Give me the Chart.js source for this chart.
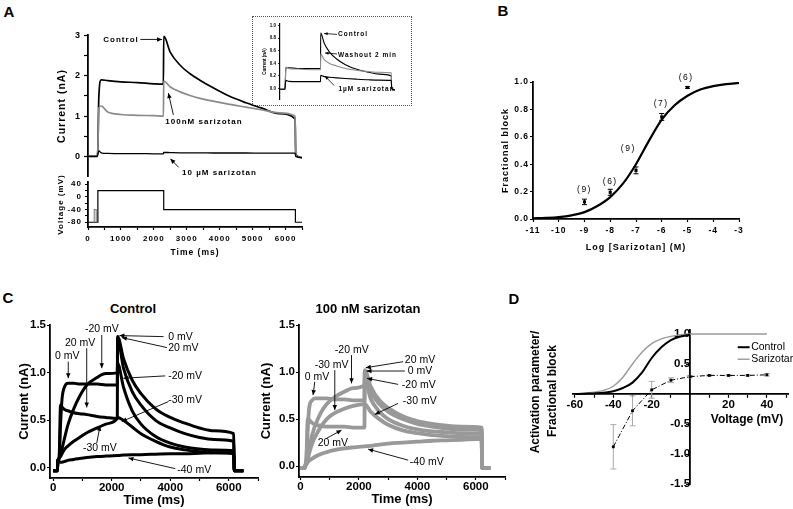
<!DOCTYPE html>
<html>
<head>
<meta charset="utf-8">
<script src="https://cdn.jsdelivr.net/npm/chart.js@4.4.1/dist/chart.umd.min.js"></script>
<style>
  body { margin: 0; background: #fff; width: 793px; height: 509px; position: relative; overflow: hidden; font-family: "Liberation Sans", Arial, sans-serif; }
  canvas { position: absolute; }
  #inbox { position: absolute; left: 252px; top: 16px; width: 158px; height: 88px; border: 1px dotted #555; }
</style>
</head>
<body>
<div id="inbox"></div>
<canvas id="aCur"></canvas>
<canvas id="aVolt"></canvas>
<canvas id="aIns"></canvas>
<canvas id="bDose"></canvas>
<canvas id="cCtrl"></canvas>
<canvas id="cSar"></canvas>
<canvas id="dAct"></canvas>
<script>
// ---- panel A: currents at +20 / -40 mV (nA), time in ms
const aTime = [0, 280, 300, 330, 400, 600, 1000, 1500, 2000, 2290, 2300, 2500, 2800, 3100, 3400, 3800, 4300, 4800, 5300, 5800, 6290, 6310, 6500];
const aControl = [0, 0, 0.2, 1.5, 1.9, 1.88, 1.85, 1.83, 1.8, 1.79, 2.98, 2.58, 2.26, 2.05, 1.89, 1.7, 1.49, 1.33, 1.19, 1.06, 0.93, 0.05, -0.03];
const a100nM = [0, 0, 0.2, 1.2, 1.25, 1.1, 1.04, 1.02, 1.01, 1.0, 1.87, 1.72, 1.6, 1.51, 1.44, 1.37, 1.29, 1.22, 1.15, 1.08, 1.0, 0.03, -0.03];
const a10uM = [0, 0, 0.05, 0.14, 0.09, 0.075, 0.07, 0.07, 0.065, 0.065, 0.1, 0.095, 0.09, 0.09, 0.09, 0.085, 0.085, 0.085, 0.08, 0.08, 0.08, 0.0, -0.03];
const aYTicks = [0, 0.5, 1, 1.5, 2, 2.5, 3];
const aYLabels = ['0', '', '1', '', '2', '', '3'];

// voltage protocol
const vTime = [0, 300, 300, 2300, 2300, 6300, 6300, 6500];
const vCmd = [-80, -80, 20, 20, -40, -40, -80, -80];
const preTime = [190, 190, 250, 250];
const preCmd = [-80, -40, -40, -80];
const vYTicks = [-80, -60, -40, -20, 0, 20, 40];
const vYLabels = ['-80', '', '-40', '', '0', '', '40'];
const tTicks = [0, 500, 1000, 1500, 2000, 2500, 3000, 3500, 4000, 4500, 5000, 5500, 6000, 6500];
const tLabels = ['0', '', '1000', '', '2000', '', '3000', '', '4000', '', '5000', '', '6000', ''];

// inset
const iTime = [0, 280, 300, 330, 500, 1000, 2000, 2290, 2300, 2500, 2800, 3200, 3700, 4300, 5000, 5600, 6290, 6310, 6500];
const iControl = [-0.01, -0.01, 0.1, 0.33, 0.33, 0.32, 0.32, 0.32, 0.88, 0.72, 0.58, 0.47, 0.38, 0.31, 0.26, 0.23, 0.2, 0.0, -0.02];
const iWashout = [-0.01, -0.01, 0.1, 0.34, 0.32, 0.31, 0.3, 0.3, 0.55, 0.46, 0.4, 0.36, 0.32, 0.29, 0.27, 0.26, 0.25, 0.0, -0.02];
const i1uM = [-0.01, -0.01, 0.05, 0.13, 0.115, 0.11, 0.11, 0.11, 0.21, 0.19, 0.18, 0.17, 0.16, 0.15, 0.14, 0.135, 0.13, 0.0, -0.02];
const iYTicks = [0, 0.2, 0.4, 0.6, 0.8, 1.0];
const iYLabels = ['0.0', '0.2', '0.4', '0.6', '0.8', '1.0'];

// ---- panel B: concentration-response
const bLogConc = [-9, -8, -7, -6, -5];
const bBlock = [0.125, 0.195, 0.355, 0.745, 0.96];
const bSem = [0.02, 0.022, 0.025, 0.025, 0.006];
const bN = ['(9)', '(6)', '(9)', '(7)', '(6)'];
const bFitLog = [-11, -10.5, -10, -9.5, -9, -8.5, -8, -7.5, -7, -6.5, -6, -5.5, -5, -4.5, -4, -3.5, -3];
const bFitVal = [0.005, 0.008, 0.014, 0.027, 0.05, 0.095, 0.16, 0.26, 0.4, 0.57, 0.725, 0.83, 0.9, 0.945, 0.97, 0.985, 0.993];
const bXTicks = [-11, -10, -9, -8, -7, -6, -5, -4, -3];
const bXLabels = ['-11', '-10', '-9', '-8', '-7', '-6', '-5', '-4', '-3'];
const bYTicks = [0, 0.2, 0.4, 0.6, 0.8, 1.0];
const bYLabels = ['0.0', '0.2', '0.4', '0.6', '0.8', '1.0'];

// ---- panel C: families of currents (nA)
const cTime = [0, 140, 160, 200, 250, 300, 400, 500, 700, 900, 1150, 1500, 1800, 2190, 2200, 2400, 2700, 3000, 3500, 4000, 4500, 5000, 5500, 6170, 6190, 6500];
const cCtrl0 = [-0.03, -0.03, 0.08, 0.1, 0.45, 0.72, 0.86, 0.89, 0.89, 0.88, 0.88, 0.88, 0.87, 0.87, 1.38, 1.15, 0.92, 0.78, 0.62, 0.53, 0.47, 0.42, 0.39, 0.36, -0.03, -0.03];
const cCtrl20 = [-0.03, -0.03, 0.08, 0.1, 0.66, 0.64, 0.61, 0.6, 0.58, 0.57, 0.56, 0.54, 0.53, 0.52, 1.36, 1.05, 0.8, 0.66, 0.5, 0.42, 0.36, 0.32, 0.3, 0.28, -0.03, -0.03];
const cCtrlM20 = [-0.03, -0.03, 0.08, 0.1, 0.14, 0.2, 0.33, 0.45, 0.62, 0.75, 0.87, 0.95, 0.99, 1.0, 1.1, 0.85, 0.6, 0.46, 0.33, 0.26, 0.22, 0.2, 0.19, 0.18, -0.03, -0.03];
const cCtrlM30 = [-0.03, -0.03, 0.08, 0.1, 0.12, 0.15, 0.2, 0.23, 0.28, 0.32, 0.37, 0.42, 0.46, 0.52, 0.53, 0.5, 0.43, 0.36, 0.28, 0.22, 0.19, 0.17, 0.16, 0.15, -0.03, -0.03];
const cCtrlM40 = [-0.03, -0.03, 0.08, 0.07, 0.06, 0.06, 0.07, 0.08, 0.09, 0.1, 0.11, 0.12, 0.125, 0.13, 0.13, 0.135, 0.14, 0.14, 0.145, 0.15, 0.15, 0.155, 0.16, 0.16, -0.03, -0.03];

const sTime = [0, 140, 160, 200, 250, 300, 400, 500, 700, 900, 1150, 1500, 1800, 2190, 2200, 2400, 2700, 3000, 3500, 4000, 4500, 5000, 5500, 6200, 6220, 6500];
const cSar0 = [-0.02, -0.02, 0.0, 0.05, 0.4, 0.62, 0.7, 0.72, 0.72, 0.72, 0.71, 0.71, 0.7, 0.7, 1.0, 0.8, 0.66, 0.58, 0.5, 0.45, 0.42, 0.4, 0.39, 0.38, -0.02, -0.02];
const cSar20 = [-0.02, -0.02, 0.0, 0.05, 0.5, 0.49, 0.46, 0.44, 0.43, 0.42, 0.42, 0.42, 0.41, 0.41, 1.02, 0.85, 0.7, 0.62, 0.53, 0.48, 0.45, 0.43, 0.42, 0.41, -0.02, -0.02];
const cSarM20 = [-0.02, -0.02, 0.0, 0.05, 0.1, 0.2, 0.33, 0.43, 0.57, 0.66, 0.73, 0.79, 0.83, 0.86, 0.93, 0.72, 0.58, 0.5, 0.43, 0.39, 0.37, 0.36, 0.35, 0.34, -0.02, -0.02];
const cSarM30 = [-0.02, -0.02, 0.0, 0.04, 0.08, 0.14, 0.24, 0.31, 0.42, 0.5, 0.56, 0.61, 0.64, 0.66, 0.66, 0.58, 0.5, 0.44, 0.38, 0.35, 0.33, 0.32, 0.31, 0.3, -0.02, -0.02];
const cSarM40 = [-0.02, -0.02, 0.0, 0.02, 0.04, 0.06, 0.08, 0.1, 0.13, 0.15, 0.17, 0.19, 0.2, 0.21, 0.21, 0.215, 0.23, 0.24, 0.25, 0.26, 0.27, 0.275, 0.28, 0.29, -0.02, -0.02];
const cXTicks = [0, 1000, 2000, 3000, 4000, 5000, 6000, 7000];
const cXLabels = ['0', '', '2000', '', '4000', '', '6000', ''];
const cYTicks = [0, 0.5, 1.0, 1.5];
const cYLabels = ['0.0', '0.5', '1.0', '1.5'];

// ---- panel D: activation and fractional block vs voltage
const dVoltCtrl = [-60, -55, -50, -45, -40, -35, -30, -25, -20, -15, -10, -5, 0];
const dActControl = [0.0, 0.005, 0.01, 0.02, 0.045, 0.1, 0.19, 0.36, 0.6, 0.78, 0.9, 0.96, 0.99];
const dVoltSar = [-60, -55, -50, -45, -40, -35, -30, -25, -20, -15, -10, -5, 0, 10, 20, 30, 40];
const dActSarizotan = [0.005, 0.012, 0.03, 0.06, 0.13, 0.28, 0.5, 0.7, 0.84, 0.92, 0.96, 0.99, 1.0, 1.0, 1.0, 1.0, 1.0];
const dBlockV = [-40, -30, -20, -10, 0, 10, 20, 30, 40];
const dBlock = [-0.88, -0.28, 0.07, 0.23, 0.29, 0.31, 0.31, 0.31, 0.32];
const dBlockErr = [0.37, 0.25, 0.14, 0.04, 0.02, 0.01, 0.01, 0.01, 0.02];
const dXTicks = [-60, -50, -40, -30, -20, -10, 10, 20, 30, 40, 50];
const dXLabels = ['-60', '', '-40', '', '-20', '', '', '20', '', '40', ''];
const dYTicks = [-1.5, -1.0, -0.5, 0.5, 1.0];
const dYLabels = ['-1.5', '-1.0', '-0.5', '0.5', '1.0'];

// ---------------------------------------------------------------
const FAM = '"Liberation Sans", Arial, sans-serif';
Chart.defaults.font.family = FAM;
Chart.defaults.color = '#000';

const pts = (xs, ys) => xs.map((x, i) => ({ x: x, y: ys[i] }));

// letter spacing for the old-style panels
Chart.register({
  id: 'spacing',
  beforeUpdate(c, a, o) { c.ctx.letterSpacing = (o && o.value) || '0px'; },
  beforeDraw(c, a, o) { c.ctx.letterSpacing = (o && o.value) || '0px'; }
});

// error bars from dataset.errors
Chart.register({
  id: 'errbars',
  beforeDatasetsDraw(chart) {
    const ctx = chart.ctx, sx = chart.scales.x, sy = chart.scales.y;
    chart.data.datasets.forEach(ds => {
      if (!ds.errors) return;
      ctx.save();
      ctx.strokeStyle = ds.errColor || '#000';
      ctx.lineWidth = 1;
      ds.data.forEach((p, i) => {
        const x = sx.getPixelForValue(p.x);
        const y1 = sy.getPixelForValue(p.y - ds.errors[i]);
        const y2 = sy.getPixelForValue(p.y + ds.errors[i]);
        const c = ds.errCap || 3;
        ctx.beginPath();
        ctx.moveTo(x, y1); ctx.lineTo(x, y2);
        ctx.moveTo(x - c, y1); ctx.lineTo(x + c, y1);
        ctx.moveTo(x - c, y2); ctx.lineTo(x + c, y2);
        ctx.stroke();
      });
      ctx.restore();
    });
  }
});

// text labels and arrows, placed in data units
Chart.register({
  id: 'notes',
  afterDatasetsDraw(chart, args, opts) {
    if (!opts || !opts.items) return;
    const ctx = chart.ctx, sx = chart.scales.x, sy = chart.scales.y;
    opts.items.forEach(n => {
      ctx.save();
      ctx.fillStyle = ctx.strokeStyle = n.color || '#000';
      if (n.from) {
        const x1 = sx.getPixelForValue(n.from[0]), y1 = sy.getPixelForValue(n.from[1]);
        const x2 = sx.getPixelForValue(n.to[0]), y2 = sy.getPixelForValue(n.to[1]);
        ctx.lineWidth = n.lw || opts.lw || 0.9;
        ctx.beginPath(); ctx.moveTo(x1, y1); ctx.lineTo(x2, y2); ctx.stroke();
        const hl = n.head !== undefined ? n.head : (opts.head || 5);
        if (hl > 0) {
          const a = Math.atan2(y2 - y1, x2 - x1), hw = hl * 0.45;
          ctx.beginPath();
          ctx.moveTo(x2, y2);
          ctx.lineTo(x2 - hl * Math.cos(a) + hw * Math.sin(a), y2 - hl * Math.sin(a) - hw * Math.cos(a));
          ctx.lineTo(x2 - hl * Math.cos(a) - hw * Math.sin(a), y2 - hl * Math.sin(a) + hw * Math.cos(a));
          ctx.closePath(); ctx.fill();
        }
      }
      if (n.text) {
        ctx.font = n.font || opts.font;
        ctx.letterSpacing = n.sp || opts.sp || '0px';
        ctx.textAlign = n.align || opts.align || 'left';
        ctx.textBaseline = 'middle';
        ctx.fillText(n.text, sx.getPixelForValue(n.at[0]), sy.getPixelForValue(n.at[1]));
      }
      ctx.restore();
    });
  }
});

function axis(o) {
  return {
    type: 'linear', min: o.min, max: o.max, display: o.display !== false,
    position: o.position,
    afterFit: o.fit,
    afterBuildTicks: s => { s.ticks = o.ticks.map(v => ({ value: v })); },
    ticks: { callback: (v, i) => o.labels[i], font: o.font, color: '#000', padding: o.tp !== undefined ? o.tp : 2, maxRotation: 0, autoSkip: false },
    grid: { drawOnChartArea: false, drawTicks: true, tickLength: o.tl || 3, tickColor: '#000', tickWidth: o.tw || 1.2 },
    border: { display: true, color: '#000', width: o.bw || 1.8 },
    title: o.title ? { display: true, text: o.title, font: o.tfont, color: '#000', padding: 0 } : { display: false }
  };
}

function mk(id, area, pad, datasets, scales, plug) {
  const cv = document.getElementById(id);
  const w = area.r - area.l + pad.l + pad.r, h = area.b - area.t + pad.t + pad.b;
  cv.width = w; cv.height = h;
  cv.style.left = (area.l - pad.l) + 'px';
  cv.style.top = (area.t - pad.t) + 'px';
  cv.style.width = w + 'px';
  cv.style.height = h + 'px';
  return new Chart(cv, {
    type: 'scatter',
    data: { datasets: datasets },
    options: {
      responsive: false, animation: false, events: [],
      layout: { padding: { top: pad.t, right: pad.r, left: pad.pl || 0, bottom: pad.pb || 0 } },
      plugins: Object.assign({ legend: { display: false }, tooltip: { enabled: false } }, plug || {}),
      scales: scales
    }
  });
}

function trace(xs, ys, color, width, smooth) {
  return {
    data: pts(xs, ys), showLine: true, pointRadius: 0, borderColor: color, borderWidth: width,
    cubicInterpolationMode: smooth ? 'monotone' : 'default', tension: 0
  };
}

function label(text, x, y, font, rot) {
  const d = document.createElement('div');
  d.textContent = text;
  d.style.cssText = 'position:absolute;left:' + x + 'px;top:' + y + 'px;font:' + font + ';line-height:1;white-space:nowrap;transform:translate(-50%,-50%)' + (rot ? ' rotate(-90deg)' : '');
  document.body.appendChild(d);
}

const boldA = 'bold 8px ' + FAM;

// ---- A: current
const aCurArea = { l: 88, t: 35, r: 302, b: 177 }, aCurPad = { l: 32, t: 8, r: 8, b: 8, pb: 8 };
mk('aCur', aCurArea, aCurPad, [
  trace(aTime, a10uM, '#000', 1.3, true),
  trace(aTime, a100nM, '#8a8a8a', 1.7, true),
  trace(aTime, aControl, '#000', 1.7, true)
], {
  x: axis({ min: 0, max: 6500, display: false, ticks: tTicks, labels: tLabels }),
  y: axis({ min: -0.5, max: 3, ticks: aYTicks, labels: aYLabels, font: { size: 9, weight: 'bold' }, tl: 4, tp: 3,
    fit: s => { s.width = aCurPad.l; }, title: 'Current (nA)', tfont: { size: 10.5, weight: 'bold' } })
}, {
  spacing: { value: '1px' },
  notes: { font: boldA, sp: '1px', head: 5, items: [
    { text: 'Control', at: [465, 2.89], from: [1590, 2.9], to: [2250, 2.9] },
    { text: '100nM sarizotan', at: [2350, 0.87], from: [2593, 1.03], to: [2441, 1.57] },
    { text: '10 \u00b5M sarizotan', at: [2857, -0.4], from: [2754, -0.27], to: [2502, -0.06] }
  ] }
});

// ---- A: voltage protocol
const aVArea = { l: 88, t: 182, r: 302, b: 227 }, aVPad = { l: 32, t: 8, r: 12, b: 31 };
mk('aVolt', aVArea, aVPad, [
  trace(preTime, preCmd, '#8a8a8a', 1.2, false),
  trace(vTime, vCmd, '#000', 1.2, false)
], {
  x: axis({ min: 0, max: 6500, ticks: tTicks, labels: tLabels, font: { size: 8, weight: 'bold' }, tl: 3, tp: 4,
    fit: s => { s.height = aVPad.b; }, title: 'Time (ms)', tfont: { size: 8.5, weight: 'bold' } }),
  y: axis({ min: -95, max: 47, ticks: vYTicks, labels: vYLabels, font: { size: 8, weight: 'bold' }, tl: 3, tp: 3,
    fit: s => { s.width = aVPad.l; }, title: 'Voltage (mV)', tfont: { size: 8, weight: 'bold' } })
}, { spacing: { value: '1px' } });

// ---- A: inset
const iArea = { l: 280, t: 23, r: 395, b: 100 }, iPad = { l: 18, t: 4, r: 16, b: 4, pb: 4 };
mk('aIns', iArea, iPad, [
  trace(iTime, i1uM, '#000', 1.1, true),
  trace(iTime, iWashout, '#8a8a8a', 1.1, true),
  trace(iTime, iControl, '#000', 1.1, true)
], {
  x: axis({ min: 0, max: 6500, display: false, ticks: tTicks, labels: tLabels }),
  y: axis({ min: -0.17, max: 1.03, ticks: iYTicks, labels: iYLabels, font: { size: 4.5, weight: 'bold' }, tl: 2, tp: 2, bw: 1.2, tw: 0.8,
    fit: s => { s.width = iPad.l; }, title: 'Current (nA)', tfont: { size: 4.5, weight: 'bold' } })
}, {
  notes: { font: 'bold 6.5px ' + FAM, sp: '1px', head: 3.5, lw: 0.8, items: [
    { text: 'Control', at: [3279, 0.86], from: [3223, 0.86], to: [2492, 0.875] },
    { text: 'Washout 2 min', at: [3279, 0.53], from: [3223, 0.55], to: [2548, 0.565] },
    { text: '1\u00b5M sarizotan', at: [3307, -0.01], from: [3054, 0.05], to: [2548, 0.196] }
  ] }
});

// ---- B
const bArea = { l: 533, t: 82, r: 739, b: 219 }, bPad = { l: 33, t: 16, r: 12, b: 34 };
mk('bDose', bArea, bPad, [
  trace(bFitLog, bFitVal, '#000', 2.2, true),
  { data: pts(bLogConc, bBlock), showLine: false, pointStyle: 'rect', pointRadius: 2.2, backgroundColor: '#000', borderColor: '#000', borderWidth: 0,
    errors: bSem, errColor: '#000', errCap: 2.5 }
], {
  x: axis({ min: -11, max: -3, ticks: bXTicks, labels: bXLabels, font: { size: 8.5, weight: 'bold' }, tl: 3, tp: 4,
    fit: s => { s.height = bPad.b; }, title: 'Log [Sarizotan] (M)', tfont: { size: 9, weight: 'bold' } }),
  y: axis({ min: 0, max: 1, ticks: bYTicks, labels: bYLabels, font: { size: 8.5, weight: 'bold' }, tl: 3, tp: 1,
    fit: s => { s.width = bPad.l; }, title: 'Fractional block', tfont: { size: 9, weight: 'bold' } })
}, {
  spacing: { value: '1px' },
  notes: { font: '8.5px ' + FAM, sp: '1.5px', align: 'center', items: [
    { text: bN[0], at: [-9, 0.215] },
    { text: bN[1], at: [-8, 0.275] },
    { text: bN[2], at: [-7.3, 0.51] },
    { text: bN[3], at: [-6.02, 0.84] },
    { text: bN[4], at: [-5.05, 1.03] }
  ] }
});

// ---- C: control family
const cNoteFont = '10.5px ' + FAM;
const cTickFont = { size: 11.5, weight: 'bold' };
const cTitleFont = { size: 13, weight: 'bold' };
const cArea = { l: 50, t: 325, r: 258, b: 478 }, cPad = { l: 33, t: 8, r: 10, b: 30 };
mk('cCtrl', cArea, cPad, [
  trace(cTime, cCtrlM40, '#000', 3, true),
  trace(cTime, cCtrlM30, '#000', 3, true),
  trace(cTime, cCtrlM20, '#000', 3, true),
  trace(cTime, cCtrl20, '#000', 3, true),
  trace(cTime, cCtrl0, '#000', 3, true)
], {
  x: axis({ min: -110, max: 7000, ticks: cXTicks, labels: cXLabels, font: cTickFont, tl: 3, tp: 0,
    fit: s => { s.height = cPad.b; }, title: 'Time (ms)', tfont: cTitleFont }),
  y: axis({ min: -0.105, max: 1.5, ticks: cYTicks, labels: cYLabels, font: cTickFont, tl: 3, tp: 1,
    fit: s => { s.width = cPad.l; }, title: 'Current (nA)', tfont: cTitleFont })
}, {
  notes: { font: cNoteFont, head: 5, items: [
    { text: '-20 mV', at: [1087, 1.459], from: [1659, 1.396], to: [1659, 1.047] },
    { text: '20 mV', at: [401, 1.309], from: [1145, 1.257], to: [1145, 0.635] },
    { text: '0 mV', at: [58, 1.169], from: [514, 1.116], to: [514, 0.942] },
    { text: '0 mV', at: [3932, 1.378], from: [3771, 1.378], to: [2263, 1.389] },
    { text: '20 mV', at: [3932, 1.257], from: [3888, 1.263], to: [2345, 1.368] },
    { text: '-20 mV', at: [3932, 0.966], from: [3829, 0.966], to: [2400, 0.942] },
    { text: '-30 mV', at: [3932, 0.715], from: [3942, 0.697], to: [2345, 0.488] },
    { text: '-30 mV', at: [1018, 0.209], from: [1488, 0.262], to: [1601, 0.443] },
    { text: '-40 mV', at: [4241, -0.018], from: [4173, -0.007], to: [2571, 0.105] }
  ] }
});

// ---- C: sarizotan family
const sArea = { l: 299, t: 325, r: 505, b: 477 }, sPad = { l: 40, t: 8, r: 10, b: 30 };
mk('cSar', sArea, sPad, [
  trace(sTime, cSarM40, '#999', 3.8, true),
  trace(sTime, cSarM30, '#999', 3.8, true),
  trace(sTime, cSarM20, '#999', 3.8, true),
  trace(sTime, cSar20, '#999', 3.8, true),
  trace(sTime, cSar0, '#999', 3.8, true)
], {
  x: axis({ min: -50, max: 7000, ticks: cXTicks, labels: cXLabels, font: cTickFont, tl: 3, tp: 0,
    fit: s => { s.height = sPad.b; }, title: 'Time (ms)', tfont: cTitleFont }),
  y: axis({ min: -0.115, max: 1.5, ticks: cYTicks, labels: cYLabels, font: cTickFont, tl: 3, tp: 1,
    fit: s => { s.width = sPad.l; }, title: 'Current (nA)', tfont: cTitleFont })
}, {
  notes: { font: cNoteFont, head: 5, items: [
    { text: '-20 mV', at: [1175, 1.234], from: [1747, 1.181], to: [1747, 0.88] },
    { text: '-30 mV', at: [490, 1.074], from: [1175, 1.021], to: [1175, 0.596] },
    { text: '0 mV', at: [147, 0.95], from: [490, 0.897], to: [432, 0.755] },
    { text: '20 mV', at: [592, 0.241], from: [890, 0.295], to: [1404, 0.383] },
    { text: '20 mV', at: [3572, 1.128], from: [3514, 1.11], to: [2236, 1.046] },
    { text: '0 mV', at: [3675, 1.011], from: [3572, 1.011], to: [2260, 1.011] },
    { text: '-20 mV', at: [3469, 0.862], from: [3342, 0.869], to: [2281, 0.933] },
    { text: '-30 mV', at: [3503, 0.691], from: [3342, 0.667], to: [2545, 0.55] },
    { text: '-40 mV', at: [3743, 0.046], from: [3685, 0.064], to: [2315, 0.181] }
  ] }
});

// ---- D
const dArea = { l: 573, t: 330, r: 788, b: 484 }, dPad = { l: 12, t: 8, r: 5, b: 8, pl: 12, pb: 8 };
const dTickFont = { size: 11.5, weight: 'bold' };
mk('dAct', dArea, dPad, [
  trace(dVoltCtrl, dActControl, '#000', 2, true),
  trace(dVoltSar, dActSarizotan, '#999', 1.4, true),
  { data: pts(dBlockV, dBlock), showLine: true, borderColor: '#000', borderWidth: 1, borderDash: [5, 2, 1, 2], tension: 0,
    pointStyle: 'rect', pointRadius: 2, backgroundColor: '#000', pointBorderWidth: 0,
    errors: dBlockErr, errColor: '#aaa', errCap: 3 }
], {
  x: axis({ min: -61, max: 51, position: { y: 0 }, ticks: dXTicks, labels: dXLabels, font: dTickFont, tl: 3, tp: 1 }),
  y: axis({ min: -1.5, max: 1.067, position: { x: 0 }, ticks: dYTicks, labels: dYLabels, font: dTickFont, tl: 3, tp: 0 })
}, {
  notes: { font: '10.5px ' + FAM, items: [
    { from: [24.8, 0.78], to: [31, 0.78], head: 0, lw: 2 },
    { text: 'Control', at: [31.8, 0.78] },
    { from: [24.8, 0.58], to: [31, 0.58], head: 0, lw: 1.4, color: '#999' },
    { text: 'Sarizotan', at: [31.8, 0.58] }
  ] }
});

// ---- panel letters and free titles
label('A', 9, 11, 'bold 15px ' + FAM);
label('B', 503, 10, 'bold 15px ' + FAM);
label('C', 8, 297, 'bold 15px ' + FAM);
label('D', 514, 298, 'bold 15px ' + FAM);
label('Control', 133, 308, 'bold 13px ' + FAM);
label('100 nM sarizotan', 368, 308, 'bold 13px ' + FAM);
label('Activation parameter/', 535, 392, 'bold 12px ' + FAM, true);
label('Fractional block', 552, 391, 'bold 12px ' + FAM, true);
label('Voltage (mV)', 747, 419, 'bold 12px ' + FAM);
</script>
</body>
</html>
